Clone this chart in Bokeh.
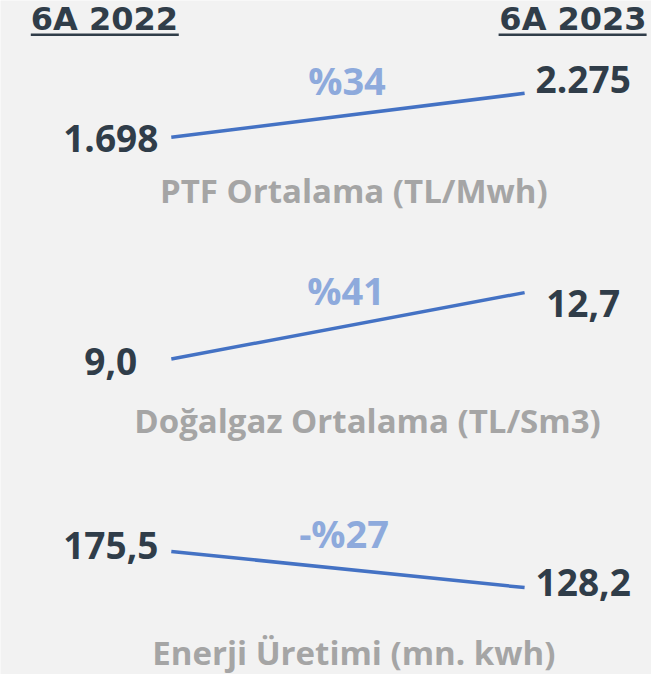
from bokeh.plotting import figure
from bokeh.models import Range1d, ColumnDataSource
from bokeh.core.properties import value
from bokeh.embed import file_html
from bokeh.resources import INLINE

# ---------------- data ----------------
periods = ["6A 2022", "6A 2023"]
period_idx = [0, 1]
metrics = ["PTF Ortalama (TL/Mwh)", "Doğalgaz Ortalama (TL/Sm3)", "Enerji Üretimi (mn. kwh)"]
ptf = [1698, 2275]
gas = [9.0, 12.7]
energy = [175.5, 128.2]
ptf_labels = ["1.698", "2.275"]
gas_labels = ["9,0", "12,7"]
energy_labels = ["175,5", "128,2"]
change_labels = ["%34", "%41", "-%27"]

# ---------------- layout ----------------
W, H = 651, 674
X0_PX, X1_PX = 170.8, 524.1
UNIT = X1_PX - X0_PX
xs = -X0_PX / UNIT
xe = xs + W / UNIT


def px_x(px):
    return xs + px / UNIT


def corr(size):
    # shift that puts the alphabetic baseline where wanted
    return -0.4 * size


FONT = value("Open Sans")
HFONT = value("DejaVu Sans")
DARK = "#303d49"
PCT = "#8eaadc"
CAT = "#a5a5a5"
LINE = "#4472c4"
BG = "#f2f2f2"

VAL_FS, PCT_FS, CAT_FS, HEAD_FS = 37, 38, 33, 32

p = figure(width=W, height=H, output_backend="svg", toolbar_location=None,
           x_range=Range1d(xs, xe), y_range=Range1d(H, 0),
           min_border=0, min_border_left=0, min_border_right=0,
           min_border_top=0, min_border_bottom=0)
p.axis.visible = False
p.grid.visible = False
p.outline_line_color = None
p.background_fill_color = BG
p.border_fill_color = BG

# panels: data, labels, pixel anchors of the two values, label baseline offsets,
# change-label position, category position
panels = [
    (ptf, ptf_labels, (136.8, 92.8), (15.6, 1.0), (346.5, 94.8), (353.3, 203.2)),
    (gas, gas_labels, (358.5, 292.1), (17.6, 25.4), (345.5, 304.8), (367.0, 432.7)),
    (energy, energy_labels, (550.9, 587.1), (8.8, 9.8), (343.6, 548.1), (353.3, 665.2)),
]

for i, (vals, labs, (py0, py1), (yo0, yo1), pct_pos, cat_pos) in enumerate(panels):
    v0, v1 = vals
    k = (v1 - v0) / (py1 - py0)
    start = v0 + (H - py0) * k
    end = v0 + (0 - py0) * k
    name = f"panel{i}"
    p.extra_y_ranges[name] = Range1d(start, end)
    src = ColumnDataSource(dict(x=period_idx, y=vals, text=labs,
                                xo=[-60.5, 58.6],
                                yo=[yo0 + corr(VAL_FS), yo1 + corr(VAL_FS)]))
    p.line("x", "y", source=src, y_range_name=name, line_color=LINE, line_width=3.5)
    p.text("x", "y", text="text", source=src, y_range_name=name,
           x_offset="xo", y_offset="yo", text_align="center",
           text_baseline="alphabetic", text_font=FONT, text_font_style="bold",
           text_font_size=f"{VAL_FS}px", text_color=DARK)
    p.text(x=[px_x(pct_pos[0])], y=[pct_pos[1] + corr(PCT_FS)], text=[change_labels[i]],
           text_align="center", text_baseline="alphabetic", text_font=FONT,
           text_font_style="bold", text_font_size=f"{PCT_FS}px", text_color=PCT)
    p.text(x=[px_x(cat_pos[0])], y=[cat_pos[1] + corr(CAT_FS)], text=[metrics[i]],
           text_align="center", text_baseline="alphabetic", text_font=FONT,
           text_font_style="bold", text_font_size=f"{CAT_FS}px", text_color=CAT)

# headers
HB = 31.0
HL, HR = 30.3, 646.1
p.text(x=[px_x(HL)], y=[HB + corr(HEAD_FS)], text=[periods[0]], text_align="left",
       text_baseline="alphabetic", text_font=HFONT, text_font_style="bold",
       text_font_size=f"{HEAD_FS}px", text_color=DARK)
p.text(x=[px_x(HR)], y=[HB + corr(HEAD_FS)], text=[periods[1]], text_align="right",
       text_baseline="alphabetic", text_font=HFONT, text_font_style="bold",
       text_font_size=f"{HEAD_FS}px", text_color=DARK)
UW = 148
UY = 34.2
p.segment(x0=[px_x(HL), px_x(HR - UW)], y0=[UY, UY],
          x1=[px_x(HL + UW), px_x(HR)], y1=[UY, UY],
          line_color=DARK, line_width=2.5)

open("out.html", "w").write(file_html(p, INLINE))
